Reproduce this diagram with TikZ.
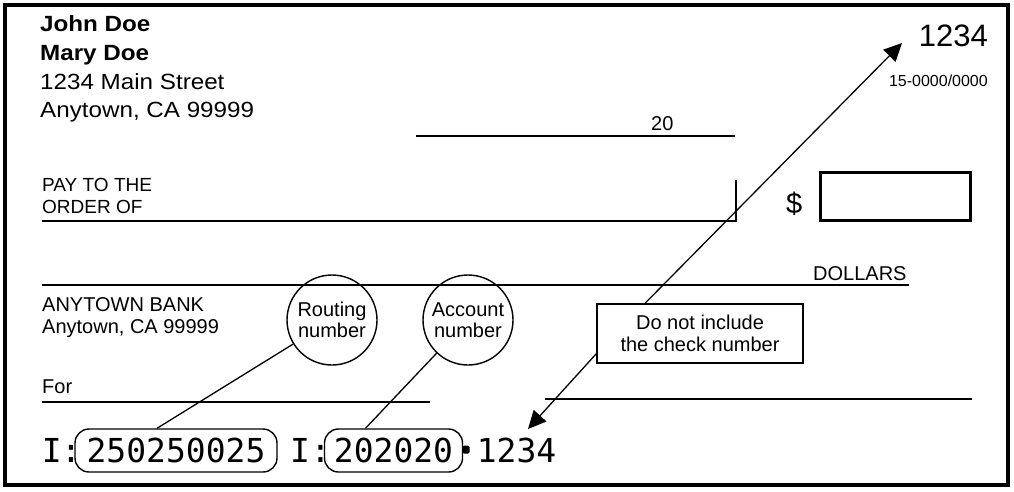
\documentclass[tikz,border=0pt]{standalone}
\usepackage{fontspec}
\setmainfont{Liberation Sans}
\newfontfamily\hdr[FakeStretch=1.1]{Liberation Sans}
\newfontfamily\micr{DejaVu Sans Mono}
\usetikzlibrary{arrows.meta,calc}
\begin{document}
\begin{tikzpicture}[x=1pt,y=-1pt,
  txt/.style={inner sep=0pt,anchor=base west},
  rule/.style={line width=2pt},
  conn/.style={line width=1.3pt},
  arr/.style={conn,-{Triangle[length=18pt,width=17pt]}},
  bubble/.style={circle,draw,line width=1.4pt,minimum size=90pt,inner sep=0pt,align=center,font=\fontsize{20}{21}\selectfont},
  micrbox/.style={draw,line width=1.4pt,rounded corners=14pt,minimum height=43pt,inner sep=0pt,font=\micr\fontsize{33}{33}\selectfont},
  micrtxt/.style={txt,font=\micr\fontsize{33}{33}\selectfont},
  hdrfont/.style={font=\hdr\fontsize{22}{26}\selectfont},
  body/.style={font=\fontsize{20}{22}\selectfont}
  ]
\useasboundingbox (0,0) rectangle (1014,491);
\draw[line width=4pt] (5,5) rectangle (1008,485);

% header
\node[txt,font=\hdr\bfseries\fontsize{22}{26}\selectfont] (n1) at (40,31.5) {John Doe};
\node[txt,font=\hdr\bfseries\fontsize{22}{26}\selectfont] (n2) at (40,60) {Mary Doe};
\node[txt,hdrfont] (n3) at (40,89) {1234 Main Street};
\node[txt,hdrfont] (n4) at (40,117) {Anytown, CA 99999};

\node[inner sep=0pt,anchor=base east,font=\fontsize{31}{31}\selectfont] (num) at (988,46) {1234};
\node[inner sep=0pt,anchor=base east,font=\fontsize{16}{16}\selectfont] (frac) at (988,86) {15-0000/0000};

% date
\node[txt,body] (yr) at (651,130) {20};
\draw[rule] (416,136) -- (735,136);

% payee
\node[txt,font=\fontsize{19}{22}\selectfont] (pay1) at (42,191) {PAY TO THE};
\node[txt,font=\fontsize{19}{22}\selectfont] (pay2) at (42,213) {ORDER OF};
\draw[rule] (42,221) -- (736,221) -- (736,180);
\node[txt,font=\fontsize{29}{29}\selectfont] (dol) at (786,213) {\$};
\draw[line width=3pt] (820,172) rectangle (970,220);

% dollars
\draw[rule] (42,285) -- (909,285);
\node[txt,body] (dl) at (813,280) {DOLLARS};

% bank
\node[txt,body] (bk1) at (42,311) {ANYTOWN BANK};
\node[txt,body] (bk2) at (42,333) {Anytown, CA 99999};

% memo
\node[txt,body] (for) at (42,393) {For};
\draw[rule] (42,402) -- (430,402);
\draw[rule] (545,399) -- (972,399);

% bubbles
\node[bubble] (rout) at (332,320) {Routing\\number};
\node[bubble] (acct) at (468,320) {Account\\number};

% note
\node[draw,line width=1.4pt,minimum width=206pt,minimum height=59pt,inner sep=0pt,align=center,font=\fontsize{20}{22.5}\selectfont] (note) at (700,333.5) {Do not include\\the check number};

% MICR line
\node[micrtxt] (t1) at (41.6,462) {I};
\node[micrtxt] (c1) at (61,462) {:};
\node[micrbox,minimum width=202pt] (b1) at (176,450.5) {250250025};
\node[micrtxt] (t2) at (290,462) {I};
\node[micrtxt] (c2) at (310.5,462) {:};
\node[micrbox,minimum width=138pt] (b2) at (393.5,450.5) {202020};
\node[fill,rounded corners=1.5pt,minimum width=7pt,minimum height=8pt,inner sep=0pt] (dot) at (466,449.5) {};
\node[inner sep=0pt,anchor=base,font=\micr\fontsize{33}{33}\selectfont] (chk) at (516.5,462) {1234};

% connectors
\draw[conn] (rout) -- ([xshift=-19pt]b1.north);
\draw[conn] (acct) -- ([xshift=-28pt]b2.north);
\coordinate (tipA) at (902,43);
\coordinate (tipB) at (528,429);
\draw[arr] ([xshift=-55pt]note.north) -- (tipA);
\draw[arr] ([yshift=10pt]note.south west) -- (tipB);
\end{tikzpicture}
\end{document}
